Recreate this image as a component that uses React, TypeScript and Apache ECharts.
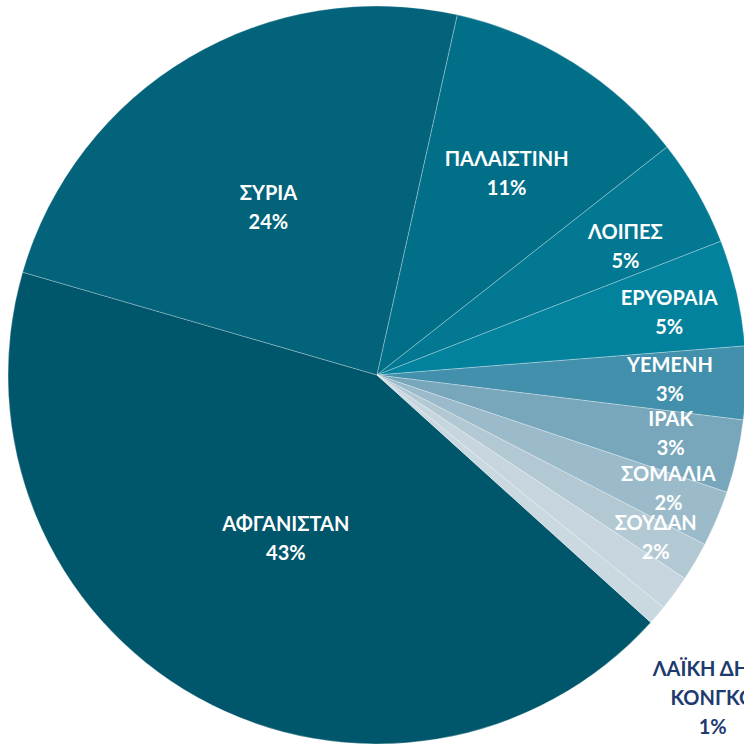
import React, { useEffect, useRef } from "react";
import * as echarts from "echarts";

// Data (clockwise, starting with ΑΦΓΑΝΙΣΤΑΝ)
const categories = [
  "ΑΦΓΑΝΙΣΤΑΝ",
  "ΣΥΡΙΑ",
  "ΠΑΛΑΙΣΤΙΝΗ",
  "ΛΟΙΠΕΣ",
  "ΕΡΥΘΡΑΙΑ",
  "ΥΕΜΕΝΗ",
  "ΙΡΑΚ",
  "ΣΟΜΑΛΙΑ",
  "ΣΟΥΔΑΝ",
  "",
  "ΛΑΪΚΗ ΔΗΜ. ΚΟΝΓΚΟ",
];
const values = [42.8, 24.0, 10.9, 4.7, 4.65, 3.2, 3.2, 2.45, 1.7, 1.55, 0.85];

// Styling (kept separate from data)
const colors = [
  "#00566b",
  "#03637a",
  "#026f89",
  "#027892",
  "#03829e",
  "#4390ac",
  "#78a7bc",
  "#9bbbca",
  "#b2c9d4",
  "#c6d5de",
  "#cad8e0",
];
const labelRadius = [0.504, 0.543, 0.652, 0.759, 0.81, 0.794, 0.811, 0.846, 0.873, 1.0, 1.261];
const labelTurn = [0.2, -2.2, 0.4, 2.2, 0.7, -0.6, -1.7, -1.9, -0.3, 0, 3.25];
const labelColors = ["#fff", "#fff", "#fff", "#fff", "#fff", "#fff", "#fff", "#fff", "#fff", "#fff", "#1e3a70"];
const labelShown = [true, true, true, true, true, true, true, true, true, false, true];

const CX = 377;
const CY = 375;
const R = 369;

const wrapName = (name: string) => {
  if (name.length <= 12) return name;
  const k = name.lastIndexOf(" ");
  return k > 0 ? name.slice(0, k) + "\n" + name.slice(k + 1) : name;
};

export default function App() {
  const ref = useRef<HTMLDivElement>(null);
  useEffect(() => {
    if (!ref.current) return;
    const chart = echarts.init(ref.current, undefined, { renderer: "svg" });
    chart.setOption({
      animation: false,
      series: [
        {
          type: "pie",
          center: [CX, CY],
          radius: [0, R],
          startAngle: 90 - 132.1,
          clockwise: true,
          avoidLabelOverlap: false,
          labelLine: { show: false },
          itemStyle: { borderColor: "rgba(255,255,255,0.35)", borderWidth: 0.8 },
          emphasis: { disabled: true },
          label: {
            show: true,
            position: "inside",
            fontFamily: "Lato, 'Open Sans', sans-serif",
            fontWeight: "bold",
            fontSize: 20,
            lineHeight: 29,
            color: "#fff",
            formatter: (p: any) => `${wrapName(p.name)}\n${Math.round(p.percent)}%`,
          },
          labelLayout: (p: any) => {
            const i = p.dataIndex;
            const lx = p.labelRect.x + p.labelRect.width / 2;
            const ly = p.labelRect.y + p.labelRect.height / 2;
            const ang = Math.atan2(ly - CY, lx - CX) + (labelTurn[i] * Math.PI) / 180;
            const rr = labelRadius[i] * R;
            return {
              x: CX + rr * Math.cos(ang),
              y: CY + rr * Math.sin(ang),
              align: "center",
              verticalAlign: "middle",
            };
          },
          data: categories.map((name, i) => ({
            name,
            value: values[i],
            itemStyle: { color: colors[i] },
            label: { show: labelShown[i], color: labelColors[i] },
          })),
        },
      ],
    });
    return () => chart.dispose();
  }, []);
  return (
    <div
      ref={ref}
      style={{ position: "fixed", left: 0, top: 0, width: 744, height: 747, background: "#fff" }}
    />
  );
}
